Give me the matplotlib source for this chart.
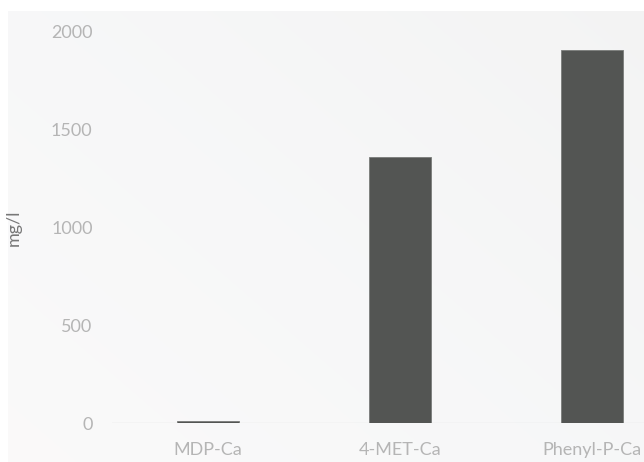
import matplotlib
matplotlib.use("Agg")
import matplotlib.pyplot as plt
import numpy as np

categories = ["MDP-Ca", "4-MET-Ca", "Phenyl-P-Ca"]
values = [12, 1360, 1910]
yticks = [0, 500, 1000, 1500, 2000]
ylabel = "mg/l"

W, H = 644, 462
fig = plt.figure(figsize=(W/100, H/100), dpi=100)
fig.patch.set_facecolor("white")

# background panel with subtle diagonal gradient
bg = fig.add_axes([8/W, 0, 1 - 8/W, (H - 11)/H])
bg.set_axis_off()
ny, nx = 200, 300
yy, xx = np.mgrid[0:1:ny*1j, 0:1:nx*1j]  # yy=0 top
t = np.clip(0.55*xx + 0.45*(1 - yy), 0, 1)
c_bl = np.array([0.982, 0.980, 0.980])
c_mid = np.array([0.968, 0.970, 0.973])
c_tr = np.array([0.955, 0.955, 0.955])
w = t[..., None]
img = np.where(w < 0.5, c_bl*(1 - 2*w) + c_mid*(2*w), c_mid*(2 - 2*w) + c_tr*(2*w - 1))
bg.imshow(img, aspect="auto", extent=[0, 1, 0, 1], interpolation="bicubic")

fam = ["Lato", "DejaVu Sans"]
ax = fig.add_axes([112/W, (H - 423)/H, 576/W, 391/H])
ax.set_facecolor("none")
x = np.arange(len(categories))
ax.bar(x, values, width=0.32, color="#535553", edgecolor="#7a7c7a", linewidth=0.6, zorder=3)
ax.set_xlim(-0.5, 2.5)
ax.set_ylim(0, 2000)
ax.set_yticks(yticks)
ax.set_yticklabels([str(v) for v in yticks])
ax.set_xticks(x)
ax.set_xticklabels(categories)
for sp in ax.spines.values():
    sp.set_visible(False)
ax.axhline(0, color="#e4e4e4", linewidth=1, zorder=2)
ax.tick_params(axis="both", length=0, colors="#b5b5b5", labelsize=13)
ax.tick_params(axis="y", pad=14)
ax.tick_params(axis="x", pad=14)
for lab in ax.get_xticklabels() + ax.get_yticklabels():
    lab.set_fontfamily(fam)
    lab.set_color("#b5b5b5")
ax.set_ylabel(ylabel, color="#777777", fontsize=13, fontfamily=fam, labelpad=0)
ax.yaxis.set_label_coords(-(112 - 22)/576, 0.5)

fig.savefig("out.png", dpi=100)
